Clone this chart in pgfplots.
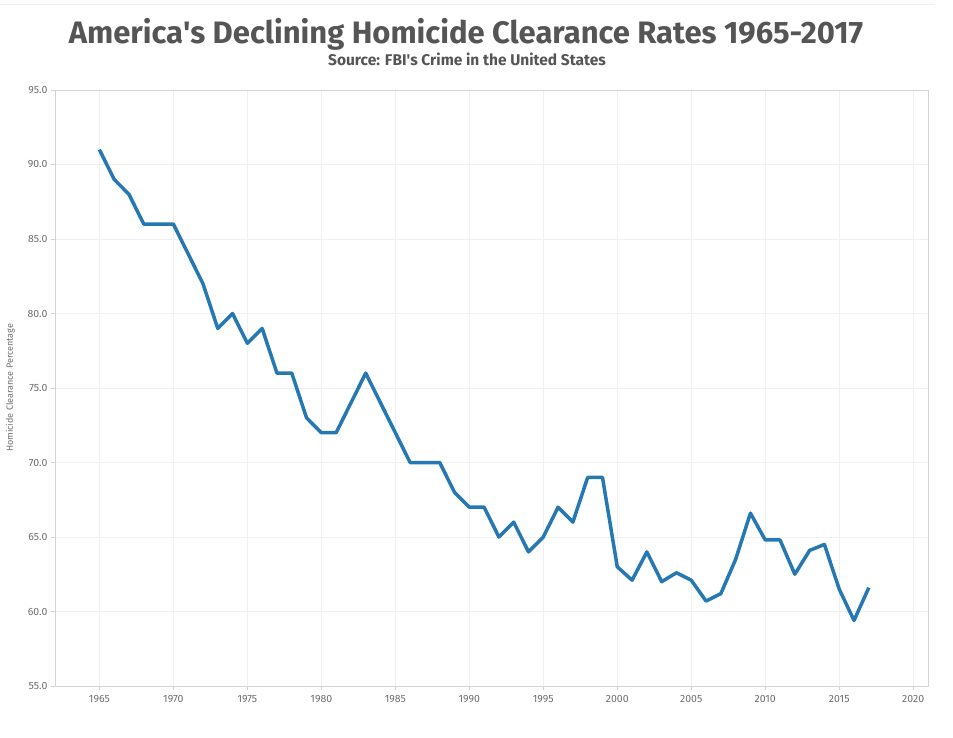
\documentclass[border=0pt]{standalone}
\usepackage{pgfplots}
\pgfplotsset{compat=1.18}
\usepackage{fontspec}
\setmainfont{Fira Sans}
\definecolor{lineblue}{RGB}{38,120,178}
\definecolor{gridc}{RGB}{240,240,240}
\definecolor{borderc}{RGB}{212,212,212}
\definecolor{tickc}{RGB}{110,110,110}
\definecolor{titlec}{RGB}{85,85,85}
\newcommand{\ap}{\textquotesingle}
\begin{document}
\begin{tikzpicture}
\useasboundingbox (-55pt,-51pt) rectangle (898pt,686pt);
\draw[gridc, line width=1pt] (-55pt,681pt) -- (880pt,681pt);
\begin{axis}[
  scale only axis,
  width=873pt, height=596pt,
  xmin=1962, xmax=2021,
  ymin=55, ymax=95,
  xtick={1965,1970,...,2020},
  ytick={55,60,...,95},
  grid=major,
  major grid style={gridc, line width=0.8pt},
  axis line style={borderc, line width=0.8pt},
  tick style={borderc, line width=0.6pt},
  tick align=outside,
  major tick length=4pt,
  xtick pos=bottom, ytick pos=left,
  ticklabel style={font=\fontsize{10.5}{12}\selectfont, text=tickc},
  /pgf/number format/assume math mode=true,
  xticklabel style={/pgf/number format/1000 sep={}, yshift=-2pt},
  yticklabel style={/pgf/number format/.cd, fixed, fixed zerofill, precision=1},
  ylabel={Homicide Clearance Percentage},
  ylabel style={font=\fontsize{9}{11}\selectfont, text=tickc, at={(ticklabel cs:0.5)}, yshift=6pt},
]
\addplot[lineblue, line width=3.5pt, line join=round] coordinates {
(1965,91.0) (1966,89.0) (1967,88.0) (1968,86.0) (1969,86.0) (1970,86.0)
(1971,84.0) (1972,82.0) (1973,79.0) (1974,80.0) (1975,78.0) (1976,79.0)
(1977,76.0) (1978,76.0) (1979,73.0) (1980,72.0) (1981,72.0) (1982,74.0)
(1983,76.0) (1984,74.0) (1985,72.0) (1986,70.0) (1987,70.0) (1988,70.0)
(1989,68.0) (1990,67.0) (1991,67.0) (1992,65.0) (1993,66.0) (1994,64.0)
(1995,65.0) (1996,67.0) (1997,66.0) (1998,69.0) (1999,69.0) (2000,63.0)
(2001,62.1) (2002,64.0) (2003,62.0) (2004,62.6) (2005,62.1) (2006,60.7)
(2007,61.2) (2008,63.5) (2009,66.6) (2010,64.8) (2011,64.8) (2012,62.5)
(2013,64.1) (2014,64.5) (2015,61.5) (2016,59.4) (2017,61.6)
};
\end{axis}
\node[font=\fontsize{31}{36}\selectfont\bfseries, text=titlec] at (411pt,652pt) {America\ap s Declining Homicide Clearance Rates 1965-2017};
\node[font=\fontsize{15.5}{18}\selectfont\bfseries, text=titlec] at (412pt,627pt) {Source: FBI\ap s Crime in the United States};
\end{tikzpicture}
\end{document}
